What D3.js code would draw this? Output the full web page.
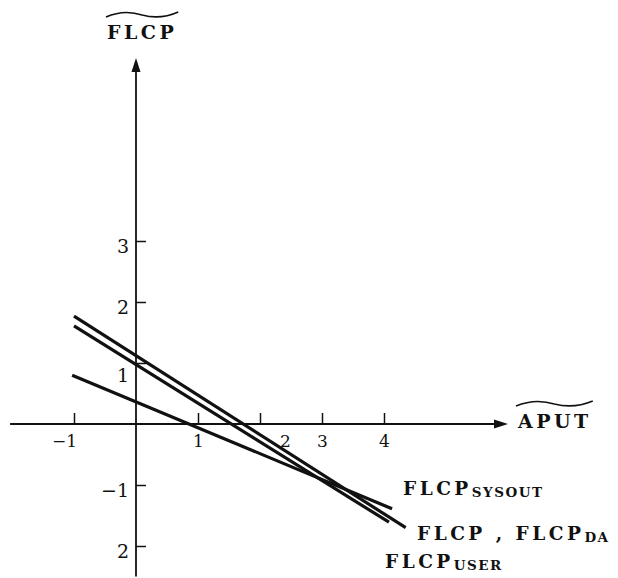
<!DOCTYPE html>
<html>
<head>
<meta charset="utf-8">
<script src="https://cdn.jsdelivr.net/npm/d3@7"></script>
<style>
  body { margin: 0; background: #fff; }
  text { font-family: "DejaVu Serif", "Liberation Serif", serif; fill: #111; }
</style>
</head>
<body>
<svg id="chart" width="618" height="578"></svg>
<script>
// tick values and their printed labels (as in the figure)
const xTicks = [-1, 1, 2, 3, 4];
const xTickLabels = ['\u22121', '1', '2', '3', '4'];
const yTicks = [3, 2, 1, -1, -2];
const yTickLabels = ['3', '2', '1', '\u22121', '2'];

// each line is given by its two end points [APUT, FLCP]
const lineNames = ['FLCP , FLCP', 'FLCP', 'FLCP'];
const lineSubs = ['DA', 'USER', 'SYSOUT'];
const flcpAll = [[-1.0, 1.77], [4.35, -1.70]];
const flcpUser = [[-1.0, 1.61], [4.08, -1.61]];
const flcpSysout = [[-1.03, 0.80], [4.13, -1.39]];

// axis extents in data units
const xExtent = [-2.03, 6.0];
const yExtent = [-2.5, 6.0];

const svg = d3.select('#chart');

const x = d3.scaleLinear().domain([-1, 4]).range([74, 384]);
const y = d3.scaleLinear().domain([-2, 3]).range([546, 241]);

// axis lines with arrow heads
svg.append('line')
  .attr('x1', x(xExtent[0])).attr('x2', x(xExtent[1]) - 10)
  .attr('y1', y(0)).attr('y2', y(0))
  .attr('stroke', '#111').attr('stroke-width', 1.8);
svg.append('path')
  .attr('d', `M${x(xExtent[1])},${y(0)} L${x(xExtent[1]) - 14},${y(0) - 4.5} L${x(xExtent[1]) - 14},${y(0) + 4.5} Z`)
  .attr('fill', '#111');

svg.append('line')
  .attr('x1', x(0)).attr('x2', x(0))
  .attr('y1', y(yExtent[0])).attr('y2', y(yExtent[1]) + 10)
  .attr('stroke', '#111').attr('stroke-width', 1.8);
svg.append('path')
  .attr('d', `M${x(0)},${y(yExtent[1])} L${x(0) - 4.5},${y(yExtent[1]) + 14} L${x(0) + 4.5},${y(yExtent[1]) + 14} Z`)
  .attr('fill', '#111');

// x ticks point up, labels sit below the axis
const gx = svg.append('g')
  .attr('transform', `translate(0,${y(0)})`)
  .call(d3.axisTop(x).tickValues(xTicks).tickSize(11)
    .tickFormat((d, i) => xTickLabels[i]));
gx.select('.domain').remove();
gx.selectAll('line').attr('stroke', '#111').attr('stroke-width', 1.5);
gx.selectAll('text')
  .attr('y', 23)
  .attr('dy', 0)
  .attr('dx', d => d === -1 ? -10 : d === 2 ? 25 : 0)
  .style('font-size', '17px')
  .style('font-family', '"DejaVu Serif", serif')
  .attr('fill', '#111');

// y ticks point right, labels on the left
const gy = svg.append('g')
  .attr('transform', `translate(${x(0)},0)`)
  .call(d3.axisRight(y).tickValues(yTicks).tickSize(10)
    .tickFormat((d, i) => yTickLabels[i]));
gy.select('.domain').remove();
gy.selectAll('line').attr('stroke', '#111').attr('stroke-width', 1.5);
gy.selectAll('text')
  .attr('x', -7)
  .attr('dy', d => d === 1 ? 18 : 11)
  .attr('text-anchor', 'end')
  .style('font-size', '19px')
  .style('font-family', '"DejaVu Serif", serif')
  .attr('fill', '#111');

// the three lines
const line = d3.line().x(d => x(d[0])).y(d => y(d[1]));
svg.selectAll('.series')
  .data([flcpAll, flcpUser, flcpSysout])
  .enter().append('path')
  .attr('class', 'series')
  .attr('d', line)
  .attr('fill', 'none')
  .attr('stroke', '#111')
  .attr('stroke-width', 3.2);

// tilde over axis titles
function tilde(t) {
  const b = t.node().getBBox();
  const x0 = b.x - 1, w = b.width + 2, ty = b.y - 6;
  svg.append('path')
    .attr('d', `M${x0},${ty + 2} Q${x0 + w * 0.25},${ty - 6} ${x0 + w * 0.5},${ty} Q${x0 + w * 0.75},${ty + 5} ${x0 + w},${ty - 3}`)
    .attr('fill', 'none').attr('stroke', '#111').attr('stroke-width', 1.6);
}

const yTitle = svg.append('text')
  .attr('x', 107).attr('y', 39)
  .style('font-size', '19px').style('font-weight', 'bold')
  .style('letter-spacing', '3.5px')
  .text('FLCP');
tilde(yTitle);

const xTitle = svg.append('text')
  .attr('x', 518).attr('y', 428)
  .style('font-size', '19px').style('font-weight', 'bold')
  .style('letter-spacing', '3.5px')
  .text('APUT');
tilde(xTitle);

// line labels with subscripts
const labelPos = [[417, 540], [385, 568], [403, 495]];
lineNames.forEach((name, i) => {
  const t = svg.append('text')
    .attr('x', labelPos[i][0]).attr('y', labelPos[i][1])
    .style('font-size', '18.5px').style('font-weight', 'bold')
    .style('letter-spacing', '3.5px');
  t.append('tspan').text(name);
  t.append('tspan').attr('dy', 2)
    .style('font-size', '13.5px').style('letter-spacing', '1.5px')
    .text(lineSubs[i]);
});
</script>
</body>
</html>
